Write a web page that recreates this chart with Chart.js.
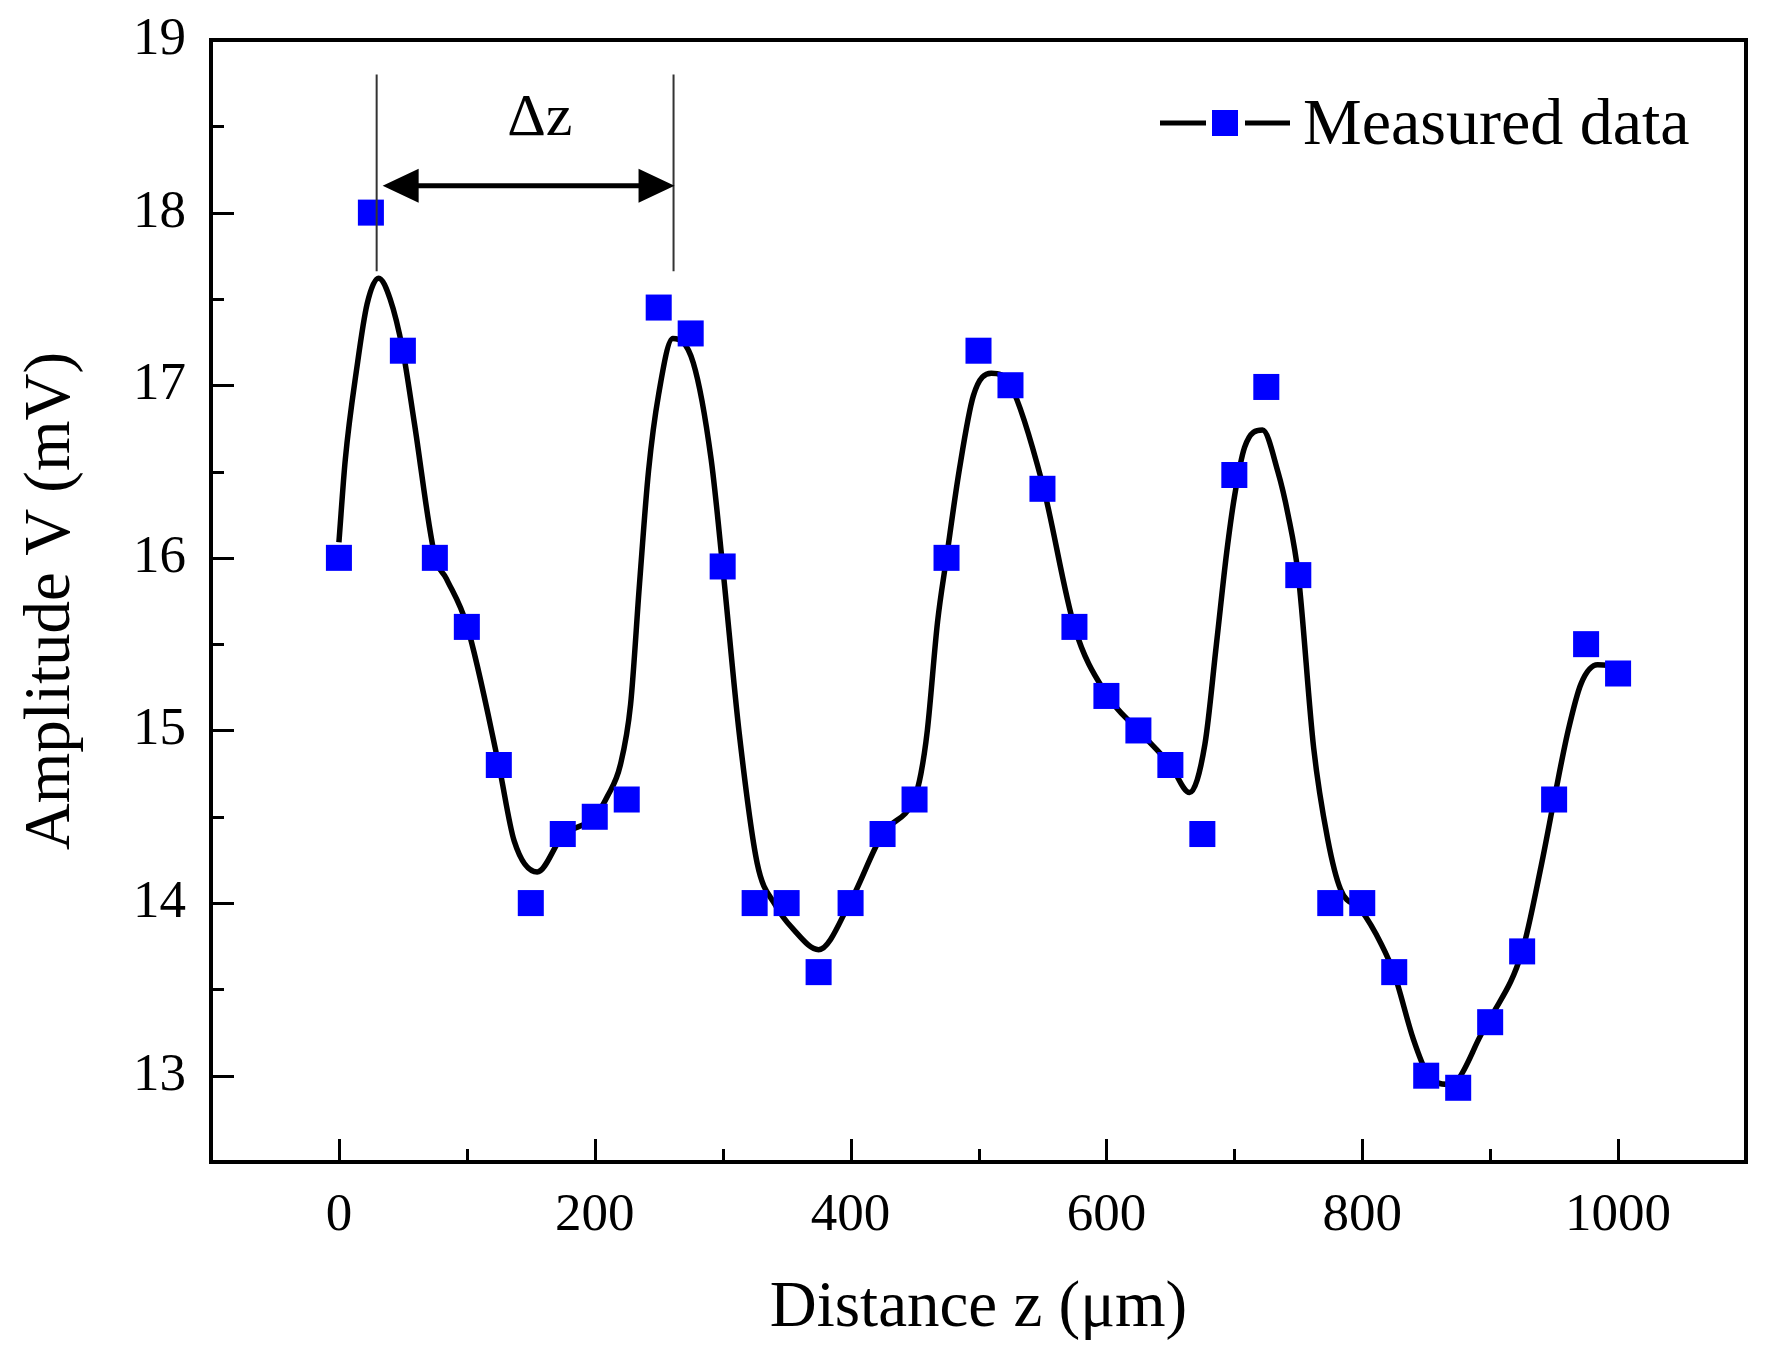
<!DOCTYPE html>
<html>
<head>
<meta charset="utf-8">
<script src="https://cdn.jsdelivr.net/npm/chart.js@4.4.1/dist/chart.umd.min.js"></script>
<style>
  html, body { margin: 0; padding: 0; background: #fff; }
  canvas { display: block; }
</style>
</head>
<body>
<canvas id="ampChart" width="1770" height="1359"></canvas>
<script>
// measured points, every 25 um
const zPoints = [0,25,50,75,100,125,150,175,200,225,250,275,300,325,350,375,400,425,450,475,
  500,525,550,575,600,625,650,675,700,725,750,775,800,825,850,875,900,925,950,975,1000];
const measured = [16.0,18.0,17.2,16.0,15.6,14.8,14.0,14.4,14.5,14.6,17.45,17.3,15.95,14.0,14.0,13.6,14.0,14.4,14.6,16.0,
  17.2,17.0,16.4,15.6,15.2,15.0,14.8,14.4,16.48,16.99,15.9,14.0,14.0,13.6,13.0,12.93,13.31,13.72,14.6,15.5,15.33];

// smooth fitted curve
const fitZ = [0,5,14,22,31,40,50,59,75,84,100,125,137,155,175,200,210,220,228,235,242,250,261,277,291,300,313,327,341,355,375,
  400,425,450,455,460,468,475,485,496,510,525,550,575,600,625,650,665,677,686,694,700,708,722,734,742,750,762,773,783,799,815,825,
  840,851,867,875,893,900,925,940,950,961,971,984,1000];
const fitV = [16.09,16.57,17.10,17.47,17.62,17.5,17.2,16.78,16.01,15.88,15.61,14.8,14.36,14.18,14.39,14.5,14.62,14.8,15.15,15.85,16.5,16.95,17.27,17.13,16.57,15.95,14.98,14.23,13.99,13.85,13.73,
  14.01,14.4,14.61,14.75,15.0,15.63,16.0,16.51,16.94,17.07,17.0,16.43,15.6,15.21,15.0,14.8,14.64,14.92,15.5,16.03,16.35,16.64,16.74,16.5,16.25,15.9,14.9,14.37,14.08,13.96,13.76,13.59,
  13.21,13.01,12.95,12.98,13.24,13.33,13.72,14.22,14.6,15.0,15.27,15.38,15.37];

const xTickLabels = [0,200,400,600,800,1000];
const yTickLabels = [13,14,15,16,17,18,19];

const SERIF = "'Liberation Serif', 'Times New Roman', serif";

// Δz marker between the first two peaks
const deltaZ = { from: 29.5, to: 261.6, top: 18.8, bottom: 17.66, arrowY: 18.155, text: 'Δz', textX: 157, textY: 18.54 };

const framePlugin = {
  id: 'frame',
  afterDatasetsDraw(chart) {
    const ctx = chart.ctx;
    const { left, right, top, bottom } = chart.chartArea;
    const xs = chart.scales.x, ys = chart.scales.y;
    ctx.save();
    ctx.strokeStyle = '#000';
    ctx.lineCap = 'butt';

    // inward ticks
    ctx.lineWidth = 3;
    ys.ticks.forEach(t => {
      if (t.value <= ys.min + 1e-6 || t.value >= ys.max - 1e-6) return;
      const py = Math.round(ys.getPixelForValue(t.value)) + 0.5;
      const len = Math.abs(t.value - Math.round(t.value)) < 1e-6 ? 23 : 13;
      ctx.beginPath(); ctx.moveTo(left, py); ctx.lineTo(left + len, py); ctx.stroke();
    });
    xs.ticks.forEach(t => {
      if (t.value <= xs.min || t.value >= xs.max) return;
      const px = Math.round(xs.getPixelForValue(t.value)) + 0.5;
      const len = t.value % 200 === 0 ? 23 : 13;
      ctx.beginPath(); ctx.moveTo(px, bottom); ctx.lineTo(px, bottom - len); ctx.stroke();
    });

    // box
    ctx.lineWidth = 4;
    ctx.strokeRect(left, top, right - left, bottom - top);

    // Δz guide lines
    ctx.strokeStyle = '#333';
    ctx.lineWidth = 2;
    const x1 = xs.getPixelForValue(deltaZ.from), x2 = xs.getPixelForValue(deltaZ.to);
    const yt = ys.getPixelForValue(deltaZ.top), yb = ys.getPixelForValue(deltaZ.bottom);
    ctx.beginPath();
    ctx.moveTo(x1, yt); ctx.lineTo(x1, yb);
    ctx.moveTo(x2, yt); ctx.lineTo(x2, yb);
    ctx.stroke();

    // double arrow
    const ya = ys.getPixelForValue(deltaZ.arrowY);
    const a1 = x1 + 6, a2 = x2 + 1, head = 36, half = 17;
    ctx.strokeStyle = '#000';
    ctx.fillStyle = '#000';
    ctx.lineWidth = 5;
    ctx.beginPath(); ctx.moveTo(a1 + head - 2, ya); ctx.lineTo(a2 - head + 2, ya); ctx.stroke();
    ctx.beginPath();
    ctx.moveTo(a1, ya); ctx.lineTo(a1 + head, ya - half); ctx.lineTo(a1 + head, ya + half); ctx.closePath();
    ctx.moveTo(a2, ya); ctx.lineTo(a2 - head, ya - half); ctx.lineTo(a2 - head, ya + half); ctx.closePath();
    ctx.fill();

    ctx.font = '60px ' + SERIF;
    ctx.textAlign = 'center';
    ctx.textBaseline = 'middle';
    ctx.fillText(deltaZ.text, xs.getPixelForValue(deltaZ.textX), ys.getPixelForValue(deltaZ.textY));

    // legend: line - square - line, then label
    const ds = chart.data.datasets[0];
    const lx = right - 586, ly = top + 83;
    ctx.lineWidth = 5;
    ctx.beginPath();
    ctx.moveTo(lx, ly); ctx.lineTo(lx + 46, ly);
    ctx.moveTo(lx + 85, ly); ctx.lineTo(lx + 130, ly);
    ctx.stroke();
    ctx.fillStyle = ds.pointBackgroundColor;
    ctx.fillRect(lx + 52, ly - 13, 26, 26);
    ctx.fillStyle = '#000';
    ctx.font = '66px ' + SERIF;
    ctx.textAlign = 'left';
    ctx.textBaseline = 'alphabetic';
    ctx.fillText(ds.label, lx + 143, ly + 21);
    ctx.restore();
  }
};

const ampChart = new Chart(document.getElementById('ampChart'), {
  type: 'scatter',
  data: {
    datasets: [{
      label: 'Measured data',
      data: zPoints.map((z, i) => ({ x: z, y: measured[i] })),
      pointStyle: 'rect',
      pointRadius: 18.4,
      pointBorderWidth: 0,
      pointBackgroundColor: '#0000ff',
      pointBorderColor: '#0000ff',
      showLine: false
    }, {
      label: 'Fit',
      data: fitZ.map((z, i) => ({ x: z, y: fitV[i] })),
      showLine: true,
      borderColor: '#000',
      borderWidth: 5.5,
      pointRadius: 0,
      cubicInterpolationMode: 'monotone'
    }]
  },
  options: {
    responsive: false,
    devicePixelRatio: 1,
    animation: false,
    layout: { padding: { top: 40, right: 24, left: 0, bottom: 0 } },
    plugins: { legend: { display: false }, tooltip: { enabled: false } },
    scales: {
      x: {
        type: 'linear',
        min: -100, max: 1100,
        afterFit: s => { s.height = 197; },
        grid: { display: false, drawTicks: false },
        border: { display: false },
        ticks: {
          stepSize: 100, autoSkip: false, maxRotation: 0, padding: 22,
          color: '#000', font: { family: SERIF, size: 53 },
          callback: v => xTickLabels.includes(v) ? String(v) : ''
        },
        title: {
          display: true, text: 'Distance z (μm)', color: '#000',
          font: { family: SERIF, size: 65 }, padding: { top: 0, bottom: 11 }
        }
      },
      y: {
        min: 12.5, max: 19,
        afterFit: s => { s.width = 211; s.paddingTop = 0; s.paddingBottom = 0; },
        grid: { display: false, drawTicks: false },
        border: { display: false },
        ticks: {
          stepSize: 0.5, autoSkip: false, padding: 25,
          color: '#000', font: { family: SERIF, size: 53 },
          callback: v => yTickLabels.find(t => Math.abs(t - v) < 1e-6) !== undefined ? String(Math.round(v)) : ''
        },
        title: {
          display: true, text: 'Amplitude V (mV)', color: '#000',
          font: { family: SERIF, size: 65 }, padding: { top: 13, bottom: 0 }
        }
      }
    }
  },
  plugins: [framePlugin]
});
</script>
</body>
</html>
